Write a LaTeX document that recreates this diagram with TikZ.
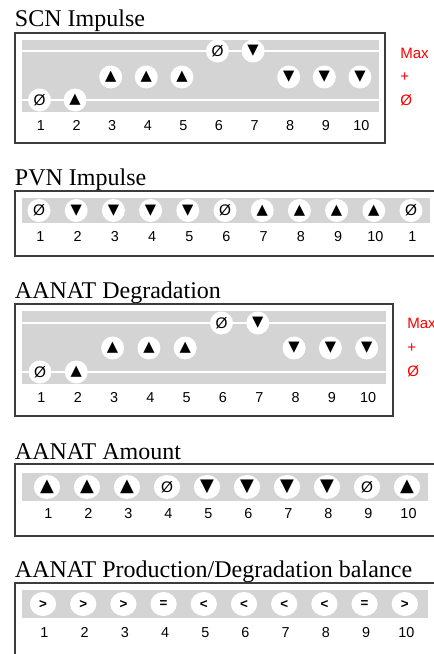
\documentclass[tikz,border=0pt]{standalone}
\usepackage{fontspec}
\usetikzlibrary{shapes.geometric}
\setmainfont{Liberation Serif}
\setsansfont{Liberation Sans}
\newfontfamily\symfont{DejaVu Sans}
\newcommand\tup{{\symfont\fontsize{11}{11}\selectfont ▲}}
\newcommand\tdown{{\symfont\fontsize{11}{11}\selectfont ▼}}
\newcommand\bigup{{\symfont\fontsize{13.5}{13.5}\selectfont ▲}}
\newcommand\bigdown{{\symfont\fontsize{13.5}{13.5}\selectfont ▼}}
\begin{document}
\begin{tikzpicture}[x=.75pt,y=-.75pt,
  title/.style={inner sep=0pt,outer sep=0pt,anchor=base west,font=\fontsize{18}{21.6}\selectfont},
  frame/.style={draw={rgb,255:red,60;green,60;blue,60},line width=0.9pt},
  band/.style={fill={rgb,255:red,212;green,212;blue,212}},
  rail/.style={draw=white,line width=2.2pt},
  state/.style={circle,fill=white,inner sep=0pt,minimum size=17.25pt,font=\sffamily\fontsize{11.5}{13.8}\selectfont},
  wide/.style={ellipse,fill=white,inner sep=0pt,minimum width=19.75pt,minimum height=18pt,font=\sffamily\fontsize{11.5}{13.8}\selectfont},
  cmp/.style={wide,font=\sffamily\bfseries\fontsize{10}{12}\selectfont},
  num/.style={inner sep=0pt,anchor=base,font=\sffamily\fontsize{10.8}{13}\selectfont},
  level/.style={inner sep=0pt,anchor=west,text={rgb,255:red,255;green,0;blue,0},font=\sffamily\fontsize{11.3}{13.6}\selectfont}]
\path[use as bounding box] (0,0) rectangle (433,654);
% SCN impulse
\node[title] (scn) at (15,26) {SCN Impulse};
\path[frame] (15,33) rectangle (385,143);
\path[band] (22,40) rectangle (379,112);
\draw[rail] (22,51) -- (379,51);
\draw[rail] (22,100) -- (379,100);
\node[state] (scn1) at (39.5,100) {Ø};
\node[state] (scn2) at (75.1,100) {\tup};
\node[state] (scn3) at (110.7,77) {\tup};
\node[state] (scn4) at (146.3,77) {\tup};
\node[state] (scn5) at (181.9,77) {\tup};
\node[state] (scn6) at (217.5,51) {Ø};
\node[state] (scn7) at (253.1,51) {\tdown};
\node[state] (scn8) at (288.7,77) {\tdown};
\node[state] (scn9) at (324.3,77) {\tdown};
\node[state] (scn10) at (359.9,77) {\tdown};
\node[num] (scnn1) at (41,130) {1};
\node[num] (scnn2) at (76.6,130) {2};
\node[num] (scnn3) at (112.2,130) {3};
\node[num] (scnn4) at (147.8,130) {4};
\node[num] (scnn5) at (183.4,130) {5};
\node[num] (scnn6) at (219,130) {6};
\node[num] (scnn7) at (254.6,130) {7};
\node[num] (scnn8) at (290.2,130) {8};
\node[num] (scnn9) at (325.8,130) {9};
\node[num] (scnn10) at (361.4,130) {10};
\node[level] (scnmax) at (400,53) {Max};
\node[level] (scnplus) at (400,77) {+};
\node[level] (scnzero) at (400,100) {Ø};
% PVN impulse
\node[title] (pvn) at (15,185) {PVN Impulse};
\path[frame] (15,191) rectangle (445,256);
\path[band] (22,198) rectangle (430,223);
\node[state] (pvn1) at (39,210.5) {Ø};
\node[state] (pvn2) at (76.2,210.5) {\tdown};
\node[state] (pvn3) at (113.4,210.5) {\tdown};
\node[state] (pvn4) at (150.6,210.5) {\tdown};
\node[state] (pvn5) at (187.8,210.5) {\tdown};
\node[state] (pvn6) at (225,210.5) {Ø};
\node[state] (pvn7) at (262.2,210.5) {\tup};
\node[state] (pvn8) at (299.4,210.5) {\tup};
\node[state] (pvn9) at (336.6,210.5) {\tup};
\node[state] (pvn10) at (373.8,210.5) {\tup};
\node[state] (pvn11) at (411,210.5) {Ø};
\node[num] (pvnn1) at (40.5,241) {1};
\node[num] (pvnn2) at (77.7,241) {2};
\node[num] (pvnn3) at (114.9,241) {3};
\node[num] (pvnn4) at (152.1,241) {4};
\node[num] (pvnn5) at (189.3,241) {5};
\node[num] (pvnn6) at (226.5,241) {6};
\node[num] (pvnn7) at (263.7,241) {7};
\node[num] (pvnn8) at (300.9,241) {8};
\node[num] (pvnn9) at (338.1,241) {9};
\node[num] (pvnn10) at (375.3,241) {10};
\node[num] (pvnn11) at (412.5,241) {1};
% AANAT degradation
\node[title] (deg) at (15,298) {AANAT Degradation};
\path[frame] (15,304) rectangle (393,416);
\path[band] (22,311) rectangle (386,384);
\draw[rail] (22,323) -- (386,323);
\draw[rail] (22,372) -- (386,372);
\node[state] (deg1) at (40,372) {Ø};
\node[state] (deg2) at (76.3,372) {\tup};
\node[state] (deg3) at (112.6,348) {\tup};
\node[state] (deg4) at (148.9,348) {\tup};
\node[state] (deg5) at (185.2,348) {\tup};
\node[state] (deg6) at (221.5,323) {Ø};
\node[state] (deg7) at (257.8,323) {\tdown};
\node[state] (deg8) at (294.1,348) {\tdown};
\node[state] (deg9) at (330.4,348) {\tdown};
\node[state] (deg10) at (366.7,348) {\tdown};
\node[num] (degn1) at (41.5,402) {1};
\node[num] (degn2) at (77.8,402) {2};
\node[num] (degn3) at (114.1,402) {3};
\node[num] (degn4) at (150.4,402) {4};
\node[num] (degn5) at (186.7,402) {5};
\node[num] (degn6) at (223,402) {6};
\node[num] (degn7) at (259.3,402) {7};
\node[num] (degn8) at (295.6,402) {8};
\node[num] (degn9) at (331.9,402) {9};
\node[num] (degn10) at (368.2,402) {10};
\node[level] (degmax) at (407,323) {Max};
\node[level] (degplus) at (407,348) {+};
\node[level] (degzero) at (407,371) {Ø};
% AANAT amount
\node[title] (amt) at (15,459) {AANAT Amount};
\path[frame] (15,464) rectangle (445,536);
\path[band] (22,473) rectangle (428,501);
\node[wide] (amt1) at (47,487) {\bigup};
\node[wide] (amt2) at (87,487) {\bigup};
\node[wide] (amt3) at (127,487) {\bigup};
\node[wide] (amt4) at (167,487) {Ø};
\node[wide] (amt5) at (207,487) {\bigdown};
\node[wide] (amt6) at (247,487) {\bigdown};
\node[wide] (amt7) at (287,487) {\bigdown};
\node[wide] (amt8) at (327,487) {\bigdown};
\node[wide] (amt9) at (367,487) {Ø};
\node[wide] (amt10) at (407,487) {\bigup};
\node[num] (amtn1) at (48.5,518) {1};
\node[num] (amtn2) at (88.5,518) {2};
\node[num] (amtn3) at (128.5,518) {3};
\node[num] (amtn4) at (168.5,518) {4};
\node[num] (amtn5) at (208.5,518) {5};
\node[num] (amtn6) at (248.5,518) {6};
\node[num] (amtn7) at (288.5,518) {7};
\node[num] (amtn8) at (328.5,518) {8};
\node[num] (amtn9) at (368.5,518) {9};
\node[num] (amtn10) at (408.5,518) {10};
% AANAT production/degradation balance
\node[title] (bal) at (15,577) {AANAT Production/Degradation balance};
\path[frame] (15,583) rectangle (445,665);
\path[band] (22,590) rectangle (428,618);
\node[cmp] (bal1) at (43,604) {>};
\node[cmp] (bal2) at (83.2,604) {>};
\node[cmp] (bal3) at (123.4,604) {>};
\node[cmp] (bal4) at (163.6,604) {=};
\node[cmp] (bal5) at (203.8,604) {<};
\node[cmp] (bal6) at (244,604) {<};
\node[cmp] (bal7) at (284.2,604) {<};
\node[cmp] (bal8) at (324.4,604) {<};
\node[cmp] (bal9) at (364.6,604) {=};
\node[cmp] (bal10) at (404.8,604) {>};
\node[num] (baln1) at (44.5,637) {1};
\node[num] (baln2) at (84.7,637) {2};
\node[num] (baln3) at (124.9,637) {3};
\node[num] (baln4) at (165.1,637) {4};
\node[num] (baln5) at (205.3,637) {5};
\node[num] (baln6) at (245.5,637) {6};
\node[num] (baln7) at (285.7,637) {7};
\node[num] (baln8) at (325.9,637) {8};
\node[num] (baln9) at (366.1,637) {9};
\node[num] (baln10) at (406.3,637) {10};
\end{tikzpicture}
\end{document}
